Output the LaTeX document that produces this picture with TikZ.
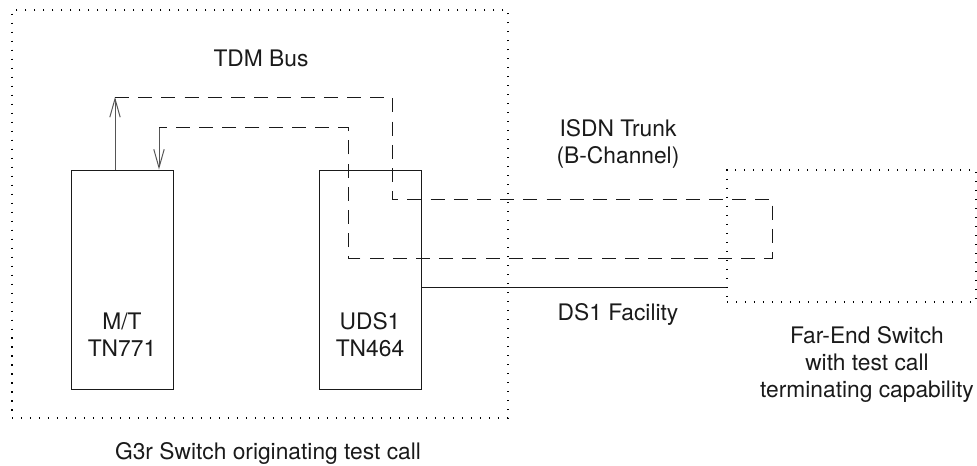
\documentclass[tikz,border=0pt]{standalone}
\usepackage{fontspec}
\setmainfont{TeX Gyre Heros}
\usetikzlibrary{arrows.meta,positioning,calc}
\definecolor{lnInk}{HTML}{1A1A1A}
\definecolor{lnGray}{HTML}{555555}
\tikzset{
  region/.style  ={draw=black,line width=1pt,dash pattern=on 1pt off 5.4pt,
                   inner sep=0pt},
  card/.style    ={draw=lnInk,line width=0.7pt,inner sep=0pt,
                   minimum width=25.5mm,minimum height=54.75mm},
  cardlbl/.style ={align=center,text=lnInk},
  lbl/.style     ={align=center,text=lnInk},
  sig/.style     ={-{Straight Barb[length=4.6mm,width=2.6mm]},lnGray,line width=0.7pt},
  bpath/.style   ={lnInk,line width=0.7pt,dash pattern=on 3.5mm off 2.3mm},
  link/.style    ={lnInk,line width=0.7pt},
}
\begin{document}
\begin{tikzpicture}[x=0.25mm,y=-0.25mm,font=\fontsize{16.2}{19.2}\selectfont]
\useasboundingbox (0,0) rectangle (977,466);
% switch regions
\node[region,minimum width=124mm,minimum height=102mm] (g3r) at (260,214) {};
\node[region,minimum width=62.25mm,minimum height=33mm] (farend) at (851.5,236) {};
% circuit packs
\node[card] (mt)  at (122,279.5) {};
\node[card] (uds) at (370,279.5) {};
\node[cardlbl] at (122,335) {M/T\\TN771};
\node[cardlbl] at (370,335) {UDS1\\TN464};
% bus taps
\coordinate (busout) at (115,97);
\coordinate (busin)  at (159,127);
\draw[sig] (mt.north -| busout) -- (busout);
\draw[sig] (busin) -- (mt.north -| busin);
% B-channel loop
\draw[bpath] (busout) -- (392,97) -- (392,199) -- (772,199) -- (772,258)
  -- (348,258) -- (348,127) -- (busin);
% DS1 facility
\coordinate (ds1) at (574,287);
\draw[link] (uds.east |- ds1) -- (farend.west |- ds1);
% labels
\node[lbl] (tdm) at (261,58) {TDM Bus};
\node[lbl] (isdn) at (618,144) {ISDN Trunk\\(B-Channel)};
\node[lbl] (dslbl) at (618,314) {DS1 Facility};
\node[lbl] (felbl) at (867,364.5) {Far-End Switch\\with test call\\terminating capability};
\node[lbl] (g3lbl) at (268,453) {G3r Switch originating test call};
\end{tikzpicture}
\end{document}
